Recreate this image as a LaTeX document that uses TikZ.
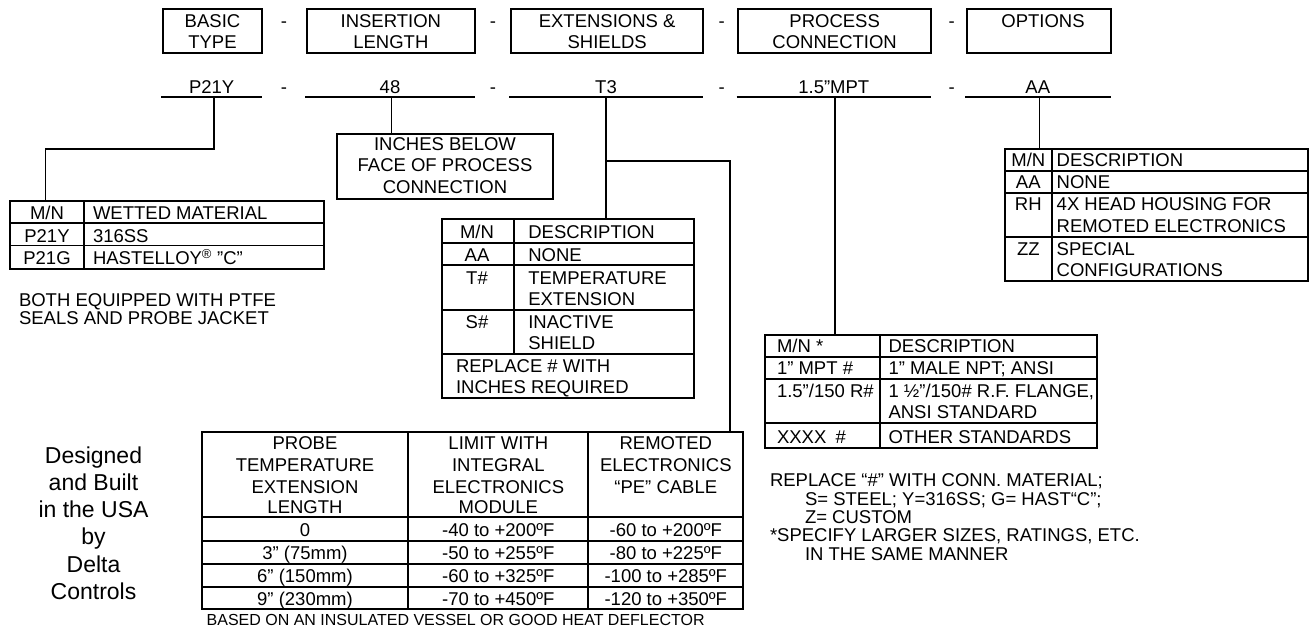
\documentclass[tikz,border=0pt]{standalone}
\usepackage{fontspec}
\setmainfont{Liberation Sans}
\newcommand\basefont{\fontsize{18.5}{21.5}\selectfont}
\newcommand\bigfont{\fontsize{23}{27}\selectfont}
\newcommand\smallfont{\fontsize{16}{19}\selectfont}
\begin{document}
\begin{tikzpicture}[x=1pt,y=-1pt,
  every node/.style={inner sep=0pt,outer sep=0pt,font=\basefont},
  lbl/.style={anchor=base},
  lbll/.style={anchor=base west},
  hdrbox/.style={draw,line width=1.9pt,minimum height=43.7pt},
  tbl/.style={line width=1.9pt},
  conn/.style={line width=1.4pt},
  uline/.style={line width=1.9pt}]
\useasboundingbox (0,0) rectangle (1311,631);

% ---------- header boxes ----------
\node[hdrbox,minimum width=99.6pt]  (hb1) at (212.5,30.85) {};
\node[hdrbox,minimum width=168.3pt] (hb2) at (390.85,30.85) {};
\node[hdrbox,minimum width=192.3pt] (hb3) at (607.15,30.85) {};
\node[hdrbox,minimum width=192.7pt] (hb4) at (834.65,30.85) {};
\node[hdrbox,minimum width=144.3pt] (hb5) at (1038.85,30.85) {};

\node[lbl] (hb1a) at (212.5,27.3) {BASIC};
\node[lbl] (hb1b) at (212.5,48.3) {TYPE};
\node[lbl] (hd1) at (284,27.3) {-};
\node[lbl] (hb2a) at (390.85,27.3) {INSERTION};
\node[lbl] (hb2b) at (390.85,48.3) {LENGTH};
\node[lbl] (hd2) at (493,27.3) {-};
\node[lbl] (hb3a) at (607.15,27.3) {EXTENSIONS \&};
\node[lbl] (hb3b) at (607.15,48.3) {SHIELDS};
\node[lbl] (hd3) at (721.7,27.3) {-};
\node[lbl] (hb4a) at (834.65,27.3) {PROCESS};
\node[lbl] (hb4b) at (834.65,48.3) {CONNECTION};
\node[lbl] (hd4) at (951.7,27.3) {-};
\node[lbl] (hb5a) at (1043,27.3) {OPTIONS};

% ---------- code row ----------
\coordinate (u1w) at (161,96.7);   \coordinate (u1e) at (262.3,96.7);
\coordinate (u2w) at (305,96.7);   \coordinate (u2e) at (475,96.7);
\coordinate (u3w) at (509,96.7);   \coordinate (u3e) at (703,96.7);
\coordinate (u4w) at (736.7,96.7); \coordinate (u4e) at (931,96.7);
\coordinate (u5w) at (965,96.7);   \coordinate (u5e) at (1110.7,96.7);
\foreach \i in {1,...,5} {\draw[uline] (u\i w) -- (u\i e);}

\node[lbl] (v1) at (211.7,93.3) {P21Y};
\node[lbl] (vd1) at (284,93.3) {-};
\node[lbl] (v2) at (390,93.3) {48};
\node[lbl] (vd2) at (493,93.3) {-};
\node[lbl] (v3) at (606,93.3) {T3};
\node[lbl] (vd3) at (721.7,93.3) {-};
\node[lbl] (v4) at (833.8,93.3) {1.5”MPT};
\node[lbl] (vd4) at (951.7,93.3) {-};
\node[lbl] (v5) at (1037.8,93.3) {AA};

% ---------- connector anchor points ----------
\coordinate (c1) at (214,96.7);
\coordinate (k1) at (214,149);
\coordinate (wt) at (45.7,201);
\coordinate (c2) at (391.7,96.7);
\coordinate (ib) at (391.7,134.3);
\coordinate (c3) at (606,96.7);
\coordinate (et) at (606,219.3);
\coordinate (br) at (606,161);
\coordinate (tt) at (730,431.7);
\coordinate (c4) at (835,96.7);
\coordinate (pt) at (835,335);
\coordinate (c5) at (1039.3,96.7);
\coordinate (ot) at (1039.3,149);

\draw[conn] (c1) -- (k1) -| (wt);
\draw[conn] (c2) -- (ib);
\draw[conn] (c3) -- (et);
\draw[conn] (br) -| (tt);
\draw[conn] (c4) -- (pt);
\draw[conn] (c5) -- (ot);

% ---------- wetted material table ----------
\draw[tbl] (10,201) rectangle (324,268.7);
\draw[tbl] (10,222.7) -- (324,222.7) (10,245.5) -- (324,245.5) (84,201) -- (84,268.7);
\node[lbl]  (w1a) at (47,219.8) {M/N};
\node[lbll] (w1b) at (93,219.8) {WETTED MATERIAL};
\node[lbl]  (w2a) at (47,242) {P21Y};
\node[lbll] (w2b) at (93,242) {316SS};
\node[lbl]  (w3a) at (47,264.5) {P21G};
\node[lbll] (w3b) at (93,264.5) {HASTELLOY\textsuperscript{®} ”C”};
\node[lbll] (wn1) at (19,306.5) {BOTH EQUIPPED WITH PTFE};
\node[lbll] (wn2) at (19,324.5) {SEALS AND PROBE JACKET};

% ---------- insertion length box ----------
\draw[tbl] (336.7,134.3) rectangle (553.3,199);
\node[lbl] (i1) at (445,150.5) {INCHES BELOW};
\node[lbl] (i2) at (445,172) {FACE OF PROCESS};
\node[lbl] (i3) at (445,193.5) {CONNECTION};

% ---------- extensions table ----------
\draw[tbl] (441.7,219.3) rectangle (694,398.3);
\draw[tbl] (441.7,242.7) -- (694,242.7) (441.7,265) -- (694,265)
           (441.7,310) -- (694,310) (441.7,354) -- (694,354)
           (514.3,219.3) -- (514.3,354);
\node[lbl]  (e1a) at (477,238.3) {M/N};
\node[lbll] (e1b) at (528.3,238.3) {DESCRIPTION};
\node[lbl]  (e2a) at (477,261.7) {AA};
\node[lbll] (e2b) at (528.3,261.7) {NONE};
\node[lbl]  (e3a) at (477,284.3) {T\#};
\node[lbll] (e3b) at (528.3,284.3) {TEMPERATURE};
\node[lbll] (e3c) at (528.3,305) {EXTENSION};
\node[lbl]  (e4a) at (477,328.3) {S\#};
\node[lbll] (e4b) at (528.3,328.3) {INACTIVE};
\node[lbll] (e4c) at (528.3,349) {SHIELD};
\node[lbll] (e5a) at (456,372.3) {REPLACE \# WITH};
\node[lbll] (e5b) at (456,393.3) {INCHES REQUIRED};

% ---------- options table ----------
\draw[tbl] (1005,149) rectangle (1307.7,281);
\draw[tbl] (1005,171) -- (1307.7,171) (1005,193) -- (1307.7,193)
           (1005,237) -- (1307.7,237) (1051.7,149) -- (1051.7,281);
\node[lbl]  (o1a) at (1028.3,166.5) {M/N};
\node[lbll] (o1b) at (1056.7,166.5) {DESCRIPTION};
\node[lbl]  (o2a) at (1028.3,188.5) {AA};
\node[lbll] (o2b) at (1056.7,188.5) {NONE};
\node[lbl]  (o3a) at (1028.3,211) {RH};
\node[lbll] (o3b) at (1056.7,211) {4X HEAD HOUSING FOR};
\node[lbll] (o3c) at (1056.7,232.5) {REMOTED ELECTRONICS};
\node[lbl]  (o4a) at (1028.3,255) {ZZ};
\node[lbll] (o4b) at (1056.7,255) {SPECIAL};
\node[lbll] (o4c) at (1056.7,276.5) {CONFIGURATIONS};

% ---------- process connection table ----------
\draw[tbl] (765,335) rectangle (1097,448.3);
\draw[tbl] (765,356.7) -- (1097,356.7) (765,379.3) -- (1097,379.3)
           (765,423.3) -- (1097,423.3) (880,335) -- (880,448.3);
\node[lbll] (p1a) at (777,352) {M/N *};
\node[lbll] (p1b) at (888.5,352) {DESCRIPTION};
\node[lbll] (p2a) at (777,374.5) {1” MPT \#};
\node[lbll] (p2b) at (888.5,374.5) {1” MALE NPT; ANSI};
\node[lbll] (p3a) at (777,397) {1.5”/150 R\#};
\node[lbll] (p3b) at (888.5,397) {1 ½”/150\# R.F. FLANGE,};
\node[lbll] (p3c) at (888.5,418.5) {ANSI STANDARD};
\node[lbll] (p4a) at (777,443) {XXXX\enspace\#};
\node[lbll] (p4b) at (888.5,443) {OTHER STANDARDS};

\node[lbll] (n1) at (770,486.7) {REPLACE “\#” WITH CONN. MATERIAL;};
\node[lbll] (n2) at (805,505) {S= STEEL; Y=316SS; G= HAST“C”;};
\node[lbll] (n3) at (805,523.3) {Z= CUSTOM};
\node[lbll] (n4) at (770,541.7) {*SPECIFY LARGER SIZES, RATINGS, ETC.};
\node[lbll] (n5) at (805,560) {IN THE SAME MANNER};

% ---------- temperature table ----------
\draw[tbl] (201.7,431.7) rectangle (743.3,609.3);
\draw[tbl] (201.7,517) -- (743.3,517) (201.7,540.7) -- (743.3,540.7)
           (201.7,564) -- (743.3,564) (201.7,586.7) -- (743.3,586.7)
           (408.3,431.7) -- (408.3,609.3) (588.3,431.7) -- (588.3,609.3);
\node[lbl] (t11) at (305,449.8) {PROBE};
\node[lbl] (t12) at (305,471.5) {TEMPERATURE};
\node[lbl] (t13) at (305,493.3) {EXTENSION};
\node[lbl] (t14) at (305,513) {LENGTH};
\node[lbl] (t21) at (498.3,449.8) {LIMIT WITH};
\node[lbl] (t22) at (498.3,471.5) {INTEGRAL};
\node[lbl] (t23) at (498.3,493.3) {ELECTRONICS};
\node[lbl] (t24) at (498.3,513) {MODULE};
\node[lbl] (t31) at (665.8,449.8) {REMOTED};
\node[lbl] (t32) at (665.8,471.5) {ELECTRONICS};
\node[lbl] (t33) at (665.8,493.3) {“PE” CABLE};
\node[lbl] (r1a) at (305,536.3) {0};
\node[lbl] (r1b) at (498.3,536.3) {-40 to +200ºF};
\node[lbl] (r1c) at (665.8,536.3) {-60 to +200ºF};
\node[lbl] (r2a) at (305,559.3) {3” (75mm)};
\node[lbl] (r2b) at (498.3,559.3) {-50 to +255ºF};
\node[lbl] (r2c) at (665.8,559.3) {-80 to +225ºF};
\node[lbl] (r3a) at (305,582.3) {6” (150mm)};
\node[lbl] (r3b) at (498.3,582.3) {-60 to +325ºF};
\node[lbl] (r3c) at (665.8,582.3) {-100 to +285ºF};
\node[lbl] (r4a) at (305,605) {9” (230mm)};
\node[lbl] (r4b) at (498.3,605) {-70 to +450ºF};
\node[lbl] (r4c) at (665.8,605) {-120 to +350ºF};
\node[lbll,font=\smallfont] (tn) at (206.7,625) {BASED ON AN INSULATED VESSEL OR GOOD HEAT DEFLECTOR};

% ---------- maker note ----------
\node[lbl,font=\bigfont] (m1) at (93.5,463.3) {Designed};
\node[lbl,font=\bigfont] (m2) at (93.5,490.5) {and Built};
\node[lbl,font=\bigfont] (m3) at (93.5,517.7) {in the USA};
\node[lbl,font=\bigfont] (m4) at (93.5,544.9) {by};
\node[lbl,font=\bigfont] (m5) at (93.5,572.1) {Delta};
\node[lbl,font=\bigfont] (m6) at (93.5,599.3) {Controls};
\end{tikzpicture}
\end{document}
